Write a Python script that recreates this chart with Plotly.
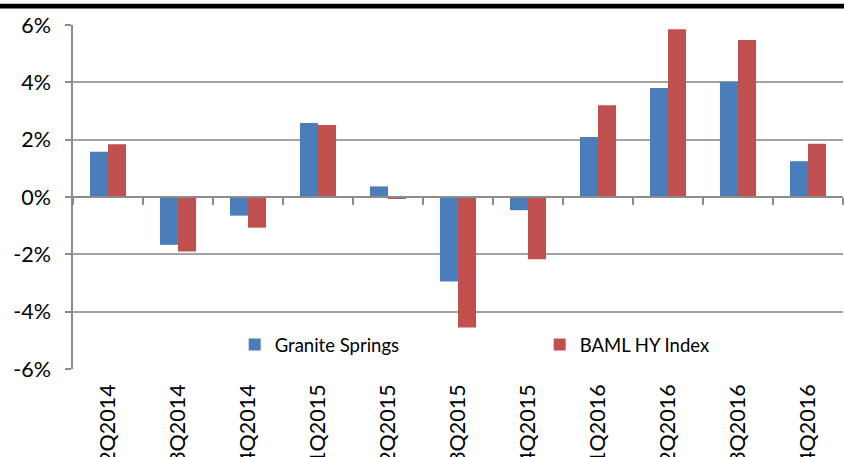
import plotly.graph_objects as go

categories = ["2Q2014", "3Q2014", "4Q2014", "1Q2015", "2Q2015", "3Q2015",
              "4Q2015", "1Q2016", "2Q2016", "3Q2016", "4Q2016"]
granite_springs = [1.58, -1.67, -0.65, 2.58, 0.37, -2.95, -0.46, 2.09, 3.80, 4.02, 1.25]
baml_hy_index = [1.84, -1.90, -1.07, 2.51, -0.05, -4.55, -2.17, 3.20, 5.85, 5.48, 1.86]
y_tickvals = [-6, -4, -2, 0, 2, 4, 6]
y_ticktext = ["-6%", "-4%", "-2%", "0%", "2%", "4%", "6%"]

FONT = "Lato"
GRID = "#a3a3a3"
AXIS = "#8c8c8c"

fig = go.Figure()
fig.add_trace(go.Bar(x=categories, y=granite_springs, name="Granite Springs",
                     marker=dict(color="#4A7EBB", line=dict(width=0))))
fig.add_trace(go.Bar(x=categories, y=baml_hy_index, name="BAML HY Index",
                     marker=dict(color="#C0504D", line=dict(width=0))))
# invisible helper trace so the zero-line category axis gets drawn
fig.add_trace(go.Scatter(x=categories, y=[None] * len(categories), xaxis="x2",
                         showlegend=False, hoverinfo="skip"))

boundaries = [i - 0.5 for i in range(len(categories) + 1)]

fig.update_layout(
    width=844, height=457,
    margin=dict(l=73, r=1, t=25, b=88, autoexpand=False),
    paper_bgcolor="white", plot_bgcolor="white",
    font=dict(family=FONT, size=21.5, color="black"),
    bargap=0.485, bargroupgap=0,
    showlegend=True,
    legend=dict(orientation="h", x=0.21, y=0.07, xanchor="left", yanchor="middle",
                font=dict(family=FONT, size=18.5, color="black"),
                entrywidth=260, entrywidthmode="pixels",
                itemwidth=30, bgcolor="rgba(0,0,0,0)"),
    xaxis=dict(type="category", categoryorder="array", categoryarray=categories,
               range=[-0.5, len(categories) - 0.5],
               tickangle=-90, ticks="", showline=False, showgrid=False,
               zeroline=False, ticklabelstandoff=10,
               tickfont=dict(family=FONT, size=21.5, color="black")),
    xaxis2=dict(type="category", categoryorder="array", categoryarray=categories,
                overlaying="x", anchor="free", position=0.5,
                range=[-0.5, len(categories) - 0.5],
                showticklabels=False, ticks="outside", ticklen=7, tickwidth=1.5,
                tickcolor=AXIS, tickmode="array", tickvals=boundaries,
                showline=True, linecolor=AXIS, linewidth=1.5,
                showgrid=False, zeroline=False),
    yaxis=dict(range=[-6, 6], tickmode="array", tickvals=y_tickvals, ticktext=y_ticktext,
               showgrid=True, gridcolor=GRID, gridwidth=1.5,
               zeroline=False, showline=True, linecolor=AXIS, linewidth=1.5,
               ticks="outside", ticklen=6, tickwidth=1.5, tickcolor=AXIS,
               ticklabelstandoff=10,
               tickfont=dict(family=FONT, size=21.5, color="black")),
    shapes=[dict(type="rect", xref="paper", yref="paper",
                 x0=-0.1, x1=1.01, y0=1.048, y1=1.062,
                 fillcolor="black", line=dict(width=0), layer="above")],
)

fig.write_html("out.html",
               config={"displayModeBar": False},
               post_script="document.body.style.margin='0';document.body.style.overflow='hidden';")
